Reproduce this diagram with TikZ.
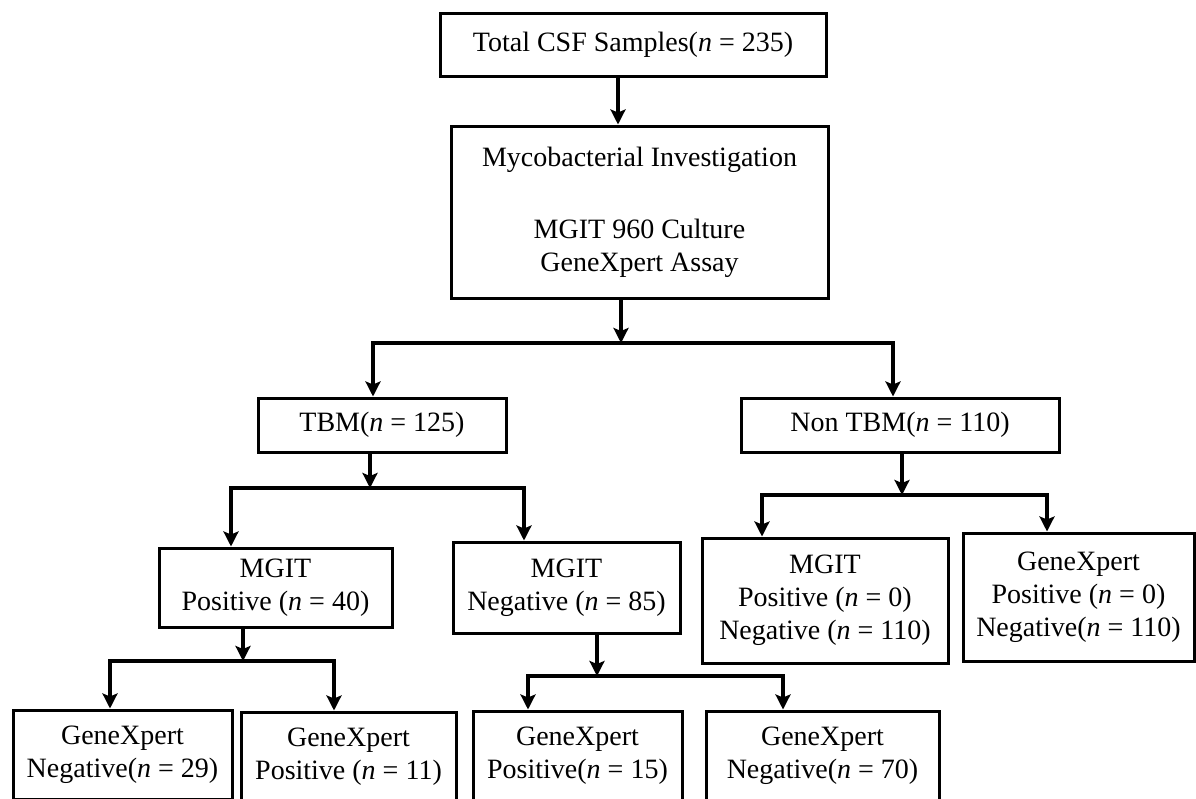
\documentclass[tikz,border=0pt]{standalone}
\usepackage{fontspec}
\setmainfont{Liberation Serif}
\usetikzlibrary{arrows.meta}
\begin{document}
\begin{tikzpicture}[x=1pt,y=-1pt,
  box/.style={draw, line width=3pt, inner sep=0pt, align=center,
    font=\fontsize{28}{33}\selectfont},
  conn/.style={line width=3.5pt},
  arr/.style={conn, -{Stealth[length=15pt,width=15pt,inset=3pt]}}]
\useasboundingbox (0,0) rectangle (1196,798);
\clip (0,0) rectangle (1196,798);
\fill[white] (0,0) rectangle (1196,798);

% boxes
\node[box, minimum width=386pt, minimum height=63pt] (b1) at (633,44.5) {Total CSF Samples(\textit{n} = 235)};
\node[box, minimum width=377pt, minimum height=172pt] (b2) at (639.5,212) {Mycobacterial Investigation\\[39pt]MGIT 960 Culture\\GeneXpert Assay};
\node[box, minimum width=248pt, minimum height=54pt] (tbm) at (382,425) {TBM(\textit{n} = 125)};
\node[box, minimum width=318pt, minimum height=54pt] (ntbm) at (900,425) {Non TBM(\textit{n} = 110)};
\node[box, minimum width=233pt, minimum height=79pt] (mpos) at (275.5,587.5) {MGIT\\Positive (\textit{n} = 40)};
\node[box, minimum width=227pt, minimum height=91pt] (mneg) at (566.5,587.5) {MGIT\\Negative (\textit{n} = 85)};
\node[box, minimum width=246pt, minimum height=125pt] (mr) at (825,600.5) {MGIT\\Positive (\textit{n} = 0)\\Negative (\textit{n} = 110)};
\node[box, minimum width=231pt, minimum height=128pt] (gr) at (1078.5,597) {GeneXpert\\Positive (\textit{n} = 0)\\Negative(\textit{n} = 110)};
\node[box, minimum width=219pt, minimum height=89pt] (g29) at (122.5,754.5) {GeneXpert\\Negative(\textit{n} = 29)};
\node[box, minimum width=215pt, minimum height=89pt] (g11) at (348.5,756.5) {GeneXpert\\Positive (\textit{n} = 11)};
\node[box, minimum width=209pt, minimum height=89pt] (g15) at (577.5,755.5) {GeneXpert\\Positive(\textit{n} = 15)};
\node[box, minimum width=233pt, minimum height=89pt] (g70) at (822.5,755.5) {GeneXpert\\Negative(\textit{n} = 70)};

% junction points
\coordinate (a1) at (618,0);
\coordinate (j1) at (621,343);
\coordinate (l1) at (373,0);
\coordinate (r1) at (893,0);
\coordinate (j2) at (370,488);
\coordinate (l2) at (231,0);
\coordinate (r2) at (524,0);
\coordinate (j3) at (902,495);
\coordinate (l3) at (762,0);
\coordinate (r3) at (1047,0);
\coordinate (j4) at (243,661);
\coordinate (l4) at (110,0);
\coordinate (r4) at (334,0);
\coordinate (j5) at (597,676);
\coordinate (l5) at (528,0);
\coordinate (r5) at (783,0);

% connectors
\draw[arr] (b1.south -| a1) -- (b2.north -| a1);
\draw[arr] (b2.south -| j1) -- (j1);
\draw[arr] (j1) -| (tbm.north -| l1);
\draw[arr] (j1) -| (ntbm.north -| r1);

\draw[arr] (tbm.south -| j2) -- (j2);
\draw[arr] (j2) -| (mpos.north -| l2);
\draw[arr] (j2) -| (mneg.north -| r2);

\draw[arr] (ntbm.south -| j3) -- (j3);
\draw[arr] (j3) -| (mr.north -| l3);
\draw[arr] (j3) -| (gr.north -| r3);

\draw[arr] (mpos.south -| j4) -- (j4);
\draw[arr] (j4) -| (g29.north -| l4);
\draw[arr] (j4) -| (g11.north -| r4);

\draw[arr] (mneg.south -| j5) -- (j5);
\draw[arr] (j5) -| (g15.north -| l5);
\draw[arr] (j5) -| (g70.north -| r5);
\end{tikzpicture}
\end{document}
